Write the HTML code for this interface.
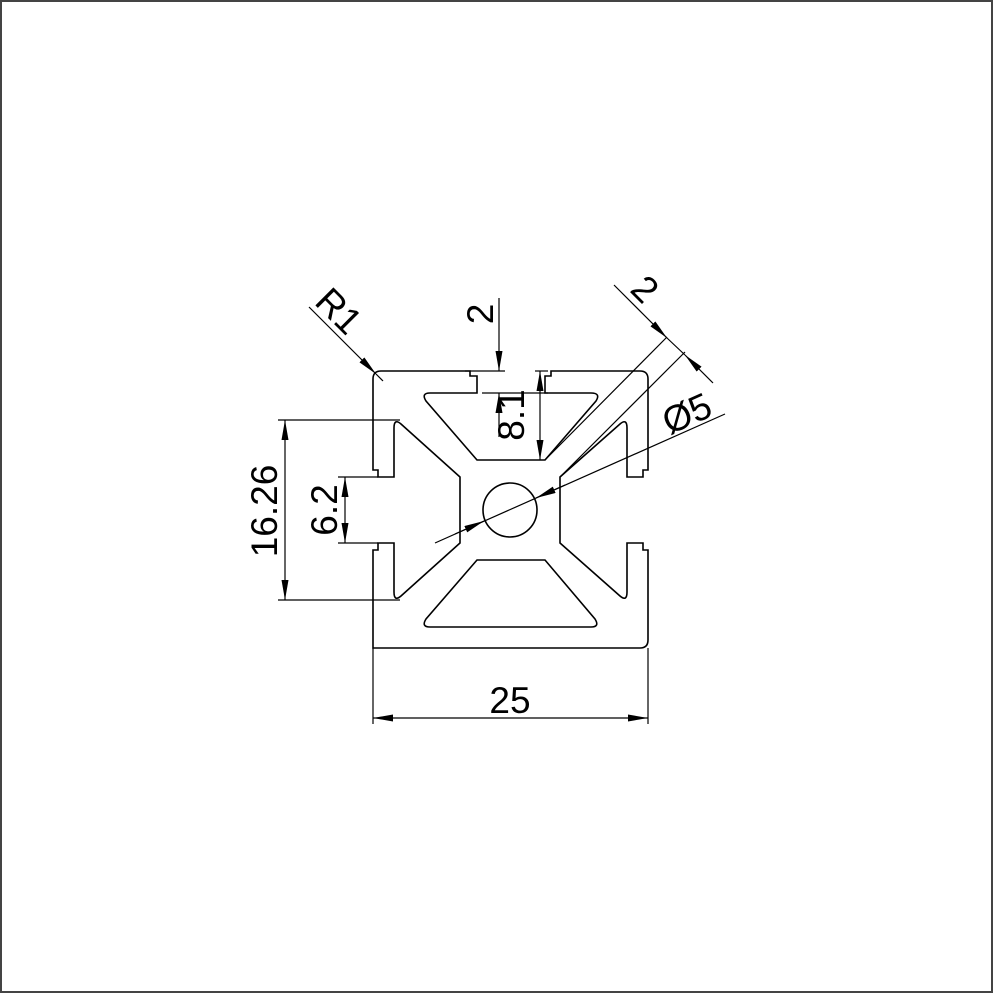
<!DOCTYPE html>
<html><head><meta charset="utf-8"><style>
html,body{margin:0;padding:0;background:#fff}
svg{display:block}
text{font-family:"Liberation Sans",Arial,sans-serif;fill:#000}
</style></head><body>
<svg width="993" height="993" viewBox="0 0 993 993" xmlns="http://www.w3.org/2000/svg">
<defs>
<marker id="a" viewBox="0 0 20 7" refX="20" refY="3.5" markerWidth="20" markerHeight="7" markerUnits="userSpaceOnUse" orient="auto"><path d="M0,0 L20,3.5 L0,7 Z" fill="#000"/></marker>
</defs>
<rect x="1" y="1" width="991" height="991" fill="#fff" stroke="#444" stroke-width="2"/>
<g fill="none" stroke="#000" stroke-width="1.6">
<path d="M381 371 H470 V376 H477 V393 H430 Q421 393 426 401 L477 460 H545 L596 401 Q601 393 591 393 H545 V376 H551 V371 H640 Q648 371 648 379 V470 H643 V477 H627 V428 Q627 418 620 424 L560 477 V543 L620 596 Q627 602 627 592 V543 H643 V550 H648 V640 Q648 648 640 648 H373 Q373 648 373 640 V550 H378 V543 H394 V592 Q394 602 401 596 L460 543 V477 L401 424 Q394 418 394 428 V477 H378 V470 H373 V379 Q373 371 381 371 Z"/>
<path d="M430 627 H591 Q600 627 595 619 L545 560 H477 L426 619 Q421 627 430 627 Z"/>
<circle cx="510" cy="510" r="27"/>
</g>
<g stroke="#000" stroke-width="1.2" fill="none">
<line x1="373" y1="648" x2="373" y2="724"/><line x1="648" y1="648" x2="648" y2="724"/>
<line x1="510" y1="718" x2="373" y2="718" marker-end="url(#a)"/><line x1="510" y1="718" x2="648" y2="718" marker-end="url(#a)"/>
<line x1="278" y1="420" x2="400" y2="420"/><line x1="278" y1="600" x2="400" y2="600"/>
<line x1="285" y1="510" x2="285" y2="420" marker-end="url(#a)"/><line x1="285" y1="510" x2="285" y2="600" marker-end="url(#a)"/>
<line x1="338" y1="477" x2="378" y2="477"/><line x1="338" y1="543" x2="378" y2="543"/>
<line x1="345" y1="510" x2="345" y2="477" marker-end="url(#a)"/><line x1="345" y1="510" x2="345" y2="543" marker-end="url(#a)"/>
<line x1="465" y1="371" x2="505" y2="371"/><line x1="482" y1="393" x2="548" y2="393"/>
<line x1="499" y1="298" x2="499" y2="371" marker-end="url(#a)"/>
<line x1="499" y1="437" x2="499" y2="393" marker-end="url(#a)"/>
<line x1="535" y1="371" x2="548" y2="371"/>
<line x1="540" y1="415" x2="540" y2="371" marker-end="url(#a)"/><line x1="540" y1="415" x2="540" y2="460" marker-end="url(#a)"/>
<line x1="309" y1="307" x2="376" y2="374" marker-end="url(#a)"/><line x1="376" y1="374" x2="383" y2="381"/>
<line x1="545" y1="460" x2="667" y2="337"/><line x1="560" y1="477" x2="685" y2="352"/>
<line x1="614" y1="285" x2="667" y2="338" marker-end="url(#a)"/><line x1="713" y1="383" x2="685" y2="355" marker-end="url(#a)"/>
<line x1="667" y1="338" x2="685" y2="355"/>
<line x1="435" y1="543" x2="725" y2="414"/>
<line x1="455" y1="534" x2="484" y2="521" marker-end="url(#a)"/>
<line x1="565" y1="485" x2="536" y2="498" marker-end="url(#a)"/>
</g>
<g font-size="37">
<text x="510" y="713" text-anchor="middle">25</text>
<text transform="translate(277,511) rotate(-90)" text-anchor="middle">16.26</text>
<text transform="translate(337,510) rotate(-90)" text-anchor="middle">6.2</text>
<text transform="translate(493,314) rotate(-90)" text-anchor="middle">2</text>
<text transform="translate(524,415) rotate(-90)" text-anchor="middle">8.1</text>
<text transform="translate(330,320) rotate(45)" text-anchor="middle">R1</text>
<text transform="translate(636,298) rotate(45)" text-anchor="middle">2</text>
<text transform="translate(692,425) rotate(-24)" text-anchor="middle">Ø5</text>
</g>
</svg>
</body></html>
